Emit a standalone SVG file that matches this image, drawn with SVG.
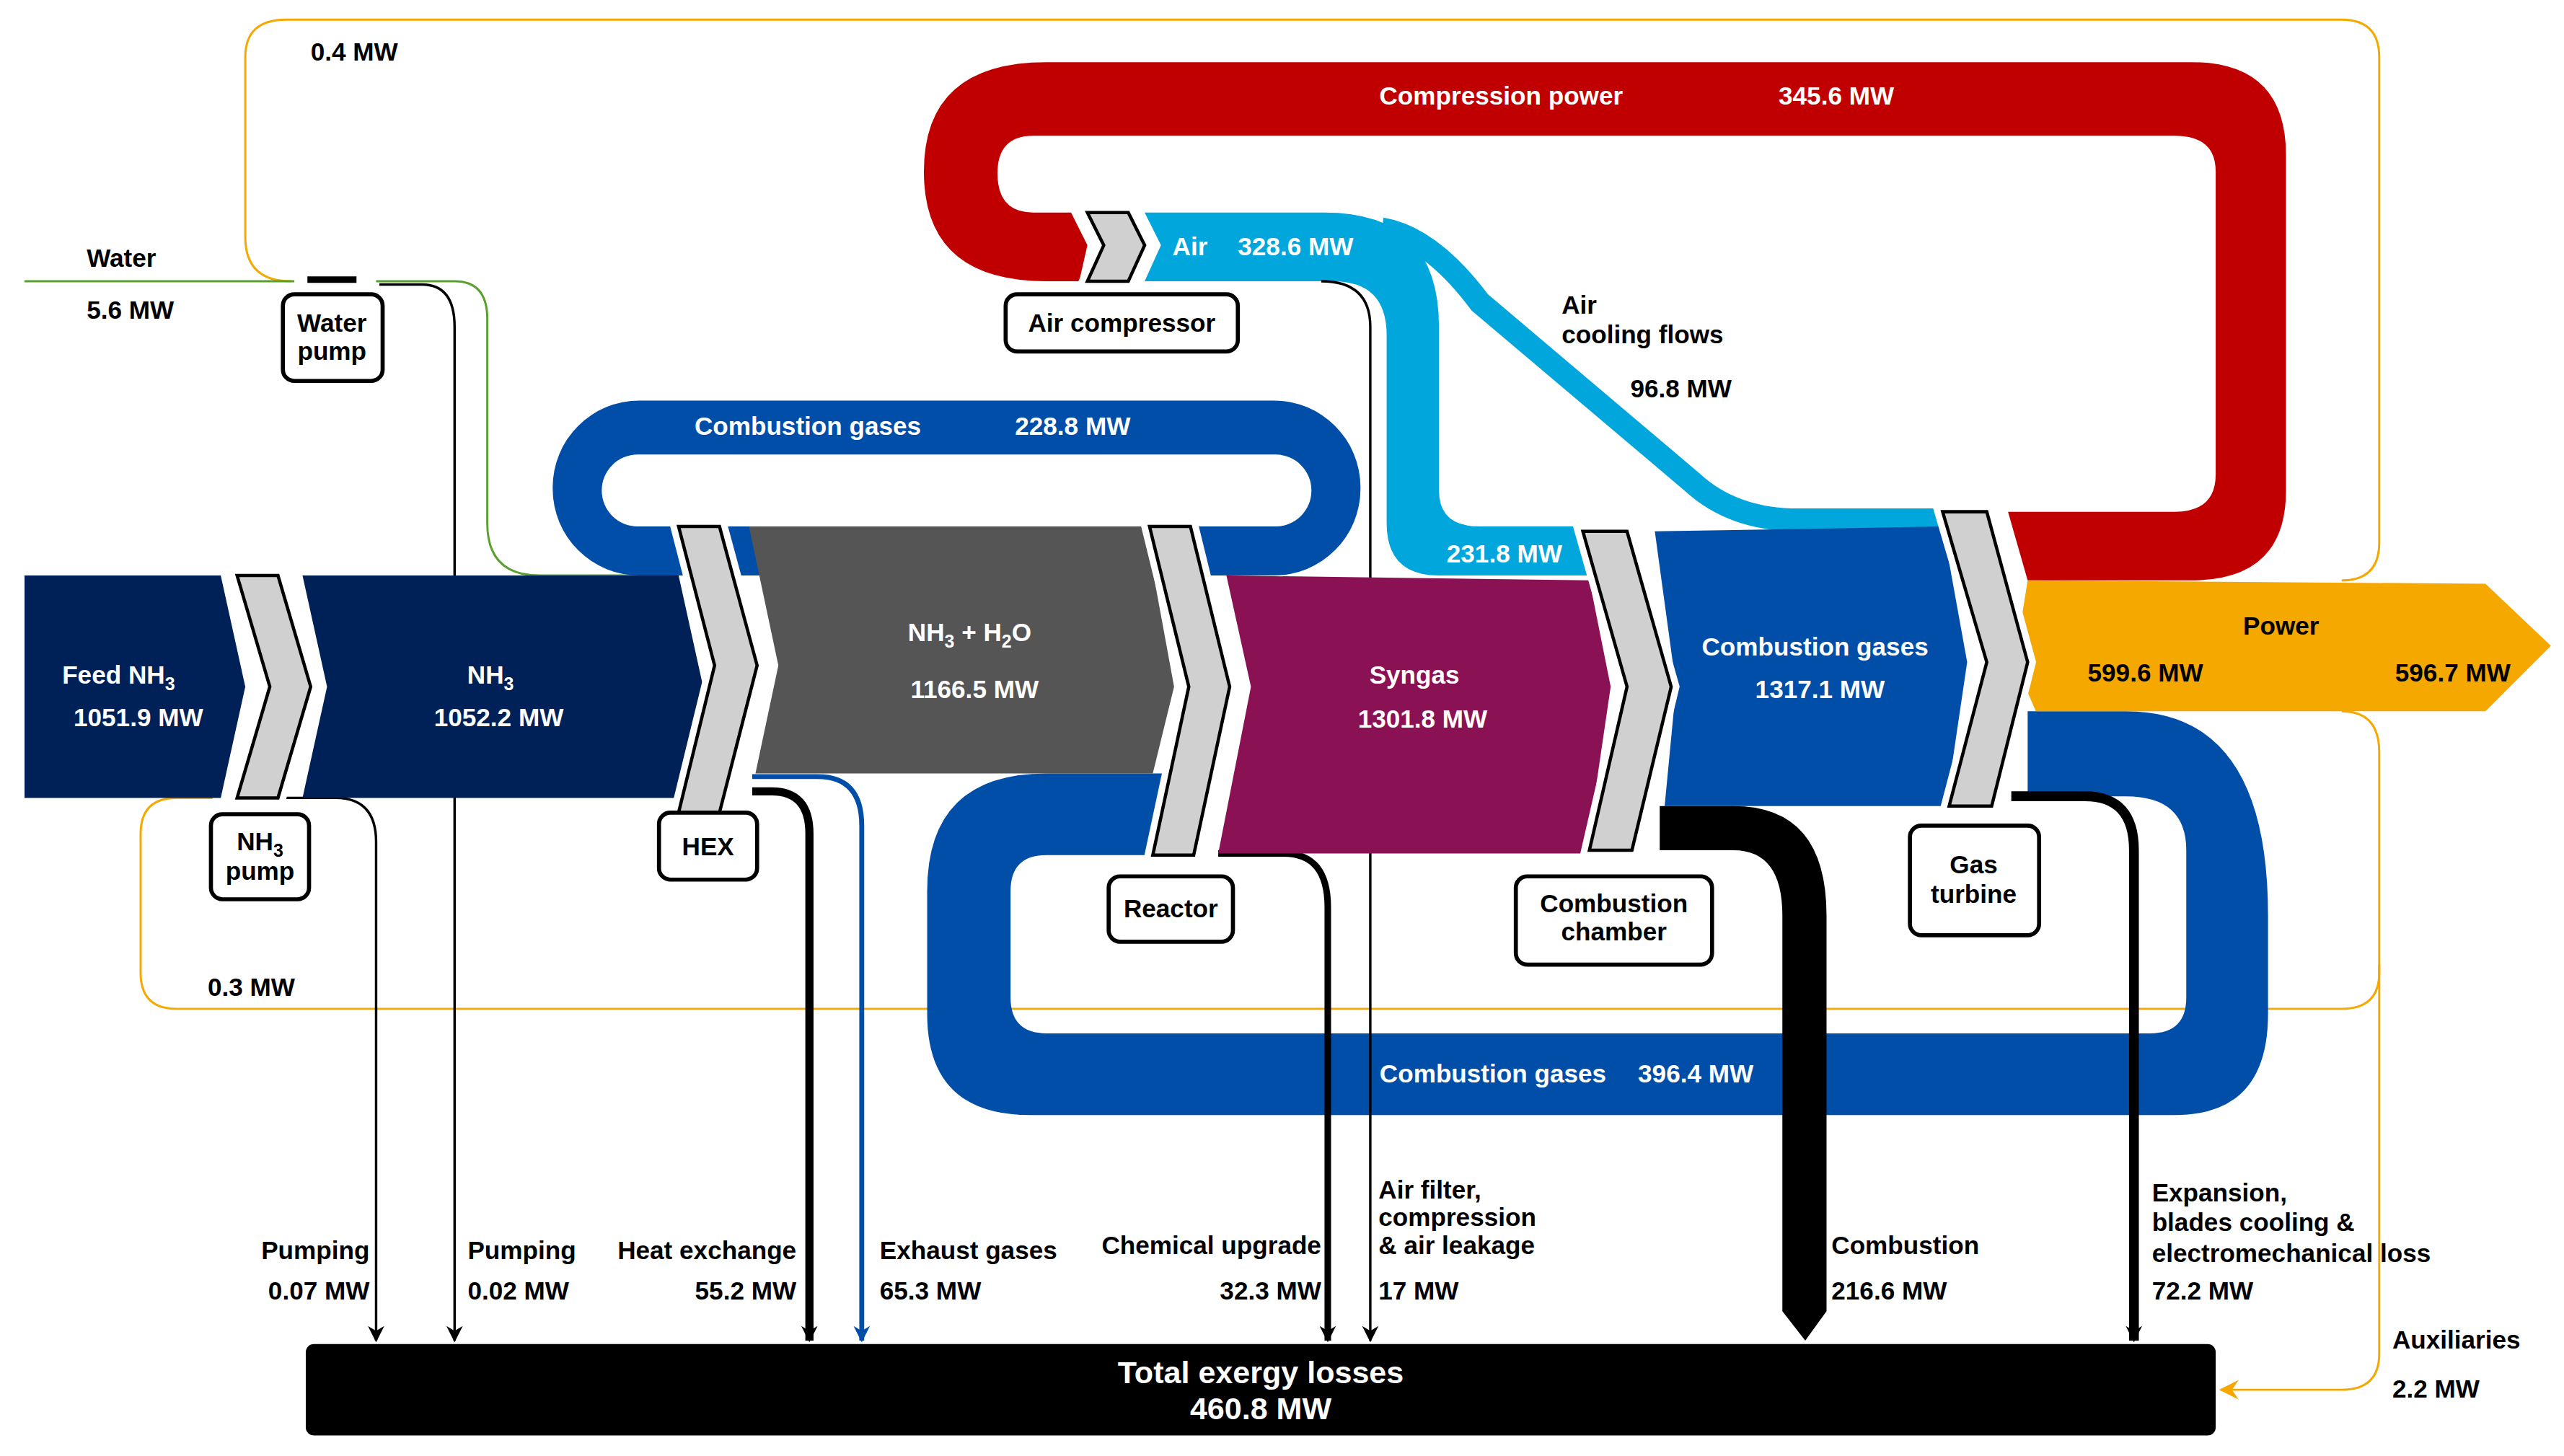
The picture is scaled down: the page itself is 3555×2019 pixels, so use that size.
<svg xmlns="http://www.w3.org/2000/svg" width="3555" height="2019" viewBox="0 0 3555 2019">
<style>
text{font-family:"Liberation Sans",Arial,sans-serif;font-weight:bold;font-size:15.5px;fill:#000}
.w{fill:#fff}
.m{text-anchor:middle}
.e{text-anchor:end}
.chev{fill:#d0d0d0;stroke:#000;stroke-width:2;stroke-linejoin:miter}
.chevw{fill:none;stroke:#fff;stroke-width:10;stroke-linejoin:miter}
.box{fill:#fff;stroke:#000;stroke-width:2.5}
.thin{fill:none;stroke:#000;stroke-width:1.5}
.org{fill:none;stroke:#f5a800;stroke-width:1.3}
.sub{font-size:11px}
</style>
<defs>
<marker id="ak" markerWidth="10" markerHeight="10" refX="9" refY="5" orient="auto" markerUnits="userSpaceOnUse"><path d="M0,0 L10,5 L0,10 L3,5 z" fill="#000"/></marker>
<marker id="ab" markerWidth="10" markerHeight="10" refX="9" refY="5" orient="auto" markerUnits="userSpaceOnUse"><path d="M0,0 L10,5 L0,10 L3,5 z" fill="#004ea8"/></marker>
<marker id="ao" markerWidth="12" markerHeight="12" refX="11" refY="6" orient="auto" markerUnits="userSpaceOnUse"><path d="M0,0 L12,6 L0,12 L4,6 z" fill="#f5a800"/></marker>
</defs>
<rect width="3555" height="2019" fill="#fff"/>
<g transform="scale(2.26722)">
<g id="connectors">
<path class="org" d="M178,172 Q150,172 150,145 V35 Q150,12 175,12 H1432 Q1455,12 1455,35 V332 Q1455,355 1432,355"/>
<path class="org" d="M1432,435 Q1455,435 1455,460 V595 Q1455,617 1432,617 H108 Q86,617 86,595 V510 Q86,488 108,488 H130"/>
<path class="org" d="M1455,590 V828 Q1455,850 1432,850 H1358" marker-end="url(#ao)"/>
<path d="M15,172 H180" fill="none" stroke="#5aa02c" stroke-width="1.3"/>
<path d="M230,172 H278 Q298,172 298,195 V320 Q298,352 330,352 H410" fill="none" stroke="#5aa02c" stroke-width="1.3"/>
<path d="M188,171 H218" stroke="#000" stroke-width="4"/>
<path class="thin" d="M232,174 H258 Q278,174 278,200 V820" marker-end="url(#ak)"/>
<path class="thin" d="M175,488 H205 Q230,488 230,515 V820" marker-end="url(#ak)"/>
</g>
<g id="compression-power">
<path fill="#c00000" d="M660,172 H640 Q565,172 565,105 Q565,38 640,38 H1340 Q1398,38 1398,95 V300 Q1398,355 1340,355 H1240 L1228,313 H1330 Q1355,313 1355,290 V105 Q1355,83 1330,83 H632 Q610,83 610,106 Q610,130 632,130 H655 L665,150 Z"/>
<text class="w m" x="918" y="64">Compression power</text>
<text class="w m" x="1123" y="64">345.6 MW</text>
</g>
<g id="air">
<path fill="#00a6dc" d="M700,130 H810 Q880,130 880,200 V300 Q880,322 905,322 H968 L975,352 H880 Q848,352 848,320 V205 Q848,172 815,172 H700 L710,150 Z"/>
<path d="M845,140 Q875,145 905,185 L1035,295 Q1060,318 1100,318 H1190" fill="none" stroke="#00a6dc" stroke-width="14"/>
<text class="w" x="717" y="156">Air</text>
<text class="w" x="757" y="156">328.6 MW</text>
<text x="955" y="192">Air</text>
<text x="955" y="210">cooling flows</text>
<text x="997" y="243">96.8 MW</text>
<text class="w m" x="920" y="344">231.8 MW</text>
</g>
<g id="cg-top">
<rect x="338" y="245" width="494" height="107" rx="53" fill="#004ea8"/>
<rect x="368" y="278" width="434" height="44" rx="22" fill="#fff"/>
<text class="w m" x="494" y="266">Combustion gases</text>
<text class="w m" x="656" y="266">228.8 MW</text>
</g>
<g id="cg-bottom">
<path fill="#004ea8" d="M1240,435 H1300 Q1387,435 1387,560 V620 Q1387,682 1330,682 H630 Q567,682 567,620 V545 Q567,473 640,473 H720 V523 H640 Q618,523 618,545 V610 Q618,632 640,632 H1315 Q1337,632 1337,610 V520 Q1337,487 1300,487 H1240 Z"/>
<text class="w m" x="913" y="662">Combustion gases</text>
<text class="w m" x="1037" y="662">396.4 MW</text>
</g>
<g id="losses-lines">
<path d="M460,475 H500 Q527,475 527,505 V820" fill="none" stroke="#004ea8" stroke-width="3" marker-end="url(#ab)"/>
<path d="M460,484 H472 Q495,484 495,510 V820" fill="none" stroke="#000" stroke-width="5" marker-end="url(#ak)"/>
<path class="thin" d="M808,172 Q838,172 838,200 V820" marker-end="url(#ak)"/>
<path d="M745,522 H785 Q812,522 812,555 V820" fill="none" stroke="#000" stroke-width="4" marker-end="url(#ak)"/>
<path fill="#000" d="M1015,493 H1060 Q1117,493 1117,560 V802 L1104,820 L1090,802 V560 Q1090,520 1060,520 H1015 Z"/>
<path d="M1230,487 H1275 Q1305,487 1305,520 V820" fill="none" stroke="#000" stroke-width="6" marker-end="url(#ak)"/>
</g>
<g id="feed-nh3">
<polygon fill="#002157" points="15,352 135,352 150,420 135,488 15,488"/>
<text class="w" x="38" y="418">Feed NH<tspan class="sub" dy="4">3</tspan></text>
<text class="w" x="45" y="444">1051.9 MW</text>
</g>
<g id="nh3">
<polygon fill="#002157" points="185,352 415,352 430,420 415,488 185,488 200,420"/>
<text class="w m" x="300" y="418">NH<tspan class="sub" dy="4">3</tspan></text>
<text class="w m" x="305" y="444">1052.2 MW</text>
</g>
<g id="nh3-h2o">
<polygon fill="#555" points="458,322 700,322 718,420 705,473 462,473 476,407"/>
<text class="w m" x="593" y="392">NH<tspan class="sub" dy="4">3</tspan><tspan dy="-4"> + H</tspan><tspan class="sub" dy="4">2</tspan><tspan dy="-4">O</tspan></text>
<text class="w m" x="596" y="427">1166.5 MW</text>
</g>
<g id="syngas">
<polygon fill="#8b1155" points="750,352 972,355 985,420 970,522 745,522 765,420"/>
<text class="w m" x="865" y="418">Syngas</text>
<text class="w m" x="870" y="445">1301.8 MW</text>
</g>
<g id="cg-main">
<polygon fill="#004ea8" points="1012,325 1188,322 1203,405 1190,493 1018,493 1025,420"/>
<text class="w m" x="1110" y="401">Combustion gases</text>
<text class="w m" x="1113" y="427">1317.1 MW</text>
</g>
<g id="power">
<polygon fill="#f5a800" points="1240,355 1520,357 1560,395 1520,435 1245,435 1232,405"/>
<text class="m" x="1395" y="388">Power</text>
<text class="m" x="1312" y="417">599.6 MW</text>
<text class="m" x="1500" y="417">596.7 MW</text>
</g>
<g id="chevrons">
<polygon class="chevw" points="145,352 170,352 190,420 170,488 145,488 165,420"/>
<polygon class="chev" points="145,352 170,352 190,420 170,488 145,488 165,420"/>
<polygon class="chevw" points="415,322 440,322 463,407 440,497 415,497 437,407"/>
<polygon class="chev" points="415,322 440,322 463,407 440,497 415,497 437,407"/>
<polygon class="chevw" points="703,322 728,322 752,420 730,523 705,523 727,420"/>
<polygon class="chev" points="703,322 728,322 752,420 730,523 705,523 727,420"/>
<polygon class="chevw" points="968,325 995,325 1022,420 998,520 972,520 995,420"/>
<polygon class="chev" points="968,325 995,325 1022,420 998,520 972,520 995,420"/>
<polygon class="chevw" points="1188,313 1215,313 1240,405 1218,493 1192,493 1215,405"/>
<polygon class="chev" points="1188,313 1215,313 1240,405 1218,493 1192,493 1215,405"/>
<polygon class="chevw" points="665,130 690,130 700,150 690,172 665,172 675,150"/>
<polygon class="chev" points="665,130 690,130 700,150 690,172 665,172 675,150"/>
</g>
<g id="water-pump"><rect class="box" x="173" y="180" width="61" height="53" rx="7"/><text class="m" x="203" y="203">Water</text><text class="m" x="203" y="220">pump</text></g>
<g id="nh3-pump"><rect class="box" x="129" y="498" width="60" height="52" rx="7"/><text class="m" x="159" y="520">NH<tspan class="sub" dy="4">3</tspan></text><text class="m" x="159" y="538">pump</text></g>
<g id="hex"><rect class="box" x="403" y="497" width="60" height="41" rx="7"/><text class="m" x="433" y="523">HEX</text></g>
<g id="air-compressor"><rect class="box" x="615" y="180" width="142" height="35" rx="7"/><text class="m" x="686" y="203">Air compressor</text></g>
<g id="reactor"><rect class="box" x="678" y="536" width="76" height="40" rx="7"/><text class="m" x="716" y="561">Reactor</text></g>
<g id="combustion-chamber"><rect class="box" x="927" y="536" width="120" height="54" rx="7"/><text class="m" x="987" y="558">Combustion</text><text class="m" x="987" y="575">chamber</text></g>
<g id="gas-turbine"><rect class="box" x="1168" y="505" width="79" height="67" rx="7"/><text class="m" x="1207" y="534">Gas</text><text class="m" x="1207" y="552">turbine</text></g>
<g id="total-losses">
<rect x="187" y="822" width="1168" height="56" rx="5" fill="#000"/>
<text class="w m" x="771" y="846" style="font-size:19px">Total exergy losses</text>
<text class="w m" x="771" y="868" style="font-size:19px">460.8 MW</text>
</g>
<g id="labels">
<text x="190" y="37">0.4 MW</text>
<text x="53" y="163">Water</text>
<text x="53" y="195">5.6 MW</text>
<text x="127" y="609">0.3 MW</text>
<text class="e" x="226" y="770">Pumping</text><text class="e" x="226" y="795">0.07 MW</text>
<text x="286" y="770">Pumping</text><text x="286" y="795">0.02 MW</text>
<text class="e" x="487" y="770">Heat exchange</text><text class="e" x="487" y="795">55.2 MW</text>
<text x="538" y="770">Exhaust gases</text><text x="538" y="795">65.3 MW</text>
<text class="e" x="808" y="767">Chemical upgrade</text><text class="e" x="808" y="795">32.3 MW</text>
<text x="843" y="733">Air filter,</text><text x="843" y="750">compression</text><text x="843" y="767">&amp; air leakage</text><text x="843" y="795">17 MW</text>
<text x="1120" y="767">Combustion</text><text x="1120" y="795">216.6 MW</text>
<text x="1316" y="735">Expansion,</text><text x="1316" y="753">blades cooling &amp;</text><text x="1316" y="772">electromechanical loss</text><text x="1316" y="795">72.2 MW</text>
<text x="1463" y="825">Auxiliaries</text><text x="1463" y="855">2.2 MW</text>
</g>
</g>
</svg>
